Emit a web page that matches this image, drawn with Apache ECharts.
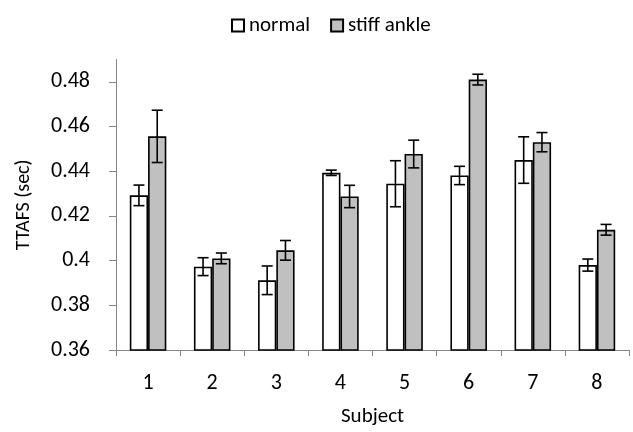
<!DOCTYPE html>
<html>
<head>
<meta charset="utf-8">
<script src="https://cdn.jsdelivr.net/npm/echarts@6/dist/echarts.min.js"></script>
<style>html,body{margin:0;padding:0;background:#fff}#c{width:633px;height:432px}</style>
</head>
<body>
<div id="c"></div>
<script>
var categories = ['1','2','3','4','5','6','7','8'];
var normalVals = [0.4292, 0.3973, 0.3912, 0.4393, 0.4344, 0.4381, 0.4450, 0.3980];
var normalErr  = [0.0046, 0.0040, 0.0064, 0.0012, 0.0103, 0.0041, 0.0104, 0.0027];
var stiffVals  = [0.4556, 0.4010, 0.4046, 0.4287, 0.4477, 0.4810, 0.4530, 0.4138];
var stiffErr   = [0.0117, 0.0024, 0.0044, 0.0050, 0.0062, 0.0024, 0.0043, 0.0024];
var yTicks = [0.36, 0.38, 0.40, 0.42, 0.44, 0.46, 0.48];

var FONT = 'Carlito, Lato, "Liberation Sans", sans-serif';
var BAR_FRAC = 0.57; // 1 - barCategoryGap

function errSeries(name, vals, errs, side) {
  var data = vals.map(function (v, i) { return [i, v - errs[i], v + errs[i]]; });
  return {
    type: 'custom',
    name: name + ' err',
    silent: true,
    z: 5,
    data: data,
    renderItem: function (params, api) {
      var idx = api.value(0);
      var lo = api.coord([idx, api.value(1)]);
      var hi = api.coord([idx, api.value(2)]);
      var band = api.size([1, 0])[0];
      var x = lo[0] + side * band * BAR_FRAC / 4;
      var cap = 5.5;
      var st = { stroke: '#000', lineWidth: 1.6 };
      return {
        type: 'group',
        children: [
          { type: 'line', shape: { x1: x, y1: lo[1], x2: x, y2: hi[1] }, style: st },
          { type: 'line', shape: { x1: x - cap, y1: lo[1], x2: x + cap, y2: lo[1] }, style: st },
          { type: 'line', shape: { x1: x - cap, y1: hi[1], x2: x + cap, y2: hi[1] }, style: st }
        ]
      };
    }
  };
}

var chart = echarts.init(document.getElementById('c'), null, { renderer: 'canvas' });
chart.setOption({
  animation: false,
  textStyle: { fontFamily: FONT },
  legend: {
    data: ['normal', 'stiff ankle'],
    top: 10,
    left: 226,
    icon: 'rect',
    itemWidth: 12,
    itemHeight: 12,
    itemGap: 20,
    textStyle: { fontSize: 21, color: '#000', fontFamily: FONT }
  },
  grid: { left: 116, right: 4, top: 59.5, bottom: 80, containLabel: false },
  xAxis: {
    type: 'category',
    data: categories,
    name: 'Subject',
    nameLocation: 'middle',
    nameGap: 56,
    nameTextStyle: { fontSize: 21, color: '#000', fontFamily: FONT },
    axisLine: { lineStyle: { color: '#868686', width: 1 } },
    axisTick: { show: true, length: 6, lineStyle: { color: '#868686' } },
    axisLabel: { fontSize: 22, color: '#000', margin: 22, fontFamily: FONT },
    splitLine: { show: false }
  },
  yAxis: {
    type: 'value',
    min: 0.36,
    max: 0.49,
    interval: 0.02,
    name: 'TTAFS (sec)',
    nameLocation: 'middle',
    nameGap: 82,
    nameTextStyle: { fontSize: 20, color: '#000', fontFamily: FONT },
    axisLine: { show: true, lineStyle: { color: '#868686', width: 1 } },
    axisTick: { show: true, length: 7, lineStyle: { color: '#868686' }, customValues: yTicks },
    axisLabel: { fontSize: 22, color: '#000', margin: 26, fontFamily: FONT, customValues: yTicks },
    splitLine: { show: false }
  },
  series: [
    {
      name: 'normal',
      type: 'bar',
      data: normalVals,
      barGap: '0%',
      barCategoryGap: '43%',
      itemStyle: { color: '#ffffff', borderColor: '#000', borderWidth: 1.6 }
    },
    {
      name: 'stiff ankle',
      type: 'bar',
      data: stiffVals,
      barGap: '0%',
      barCategoryGap: '43%',
      itemStyle: { color: '#c0c0c0', borderColor: '#000', borderWidth: 1.6 }
    },
    errSeries('normal', normalVals, normalErr, -1),
    errSeries('stiff ankle', stiffVals, stiffErr, 1)
  ]
});
</script>
</body>
</html>
